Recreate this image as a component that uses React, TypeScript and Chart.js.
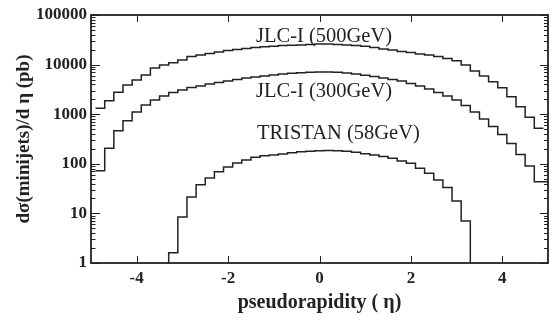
import { useEffect, useRef } from 'react';
import { Chart, registerables } from 'chart.js';

Chart.register(...registerables);

const BIN_WIDTH = 0.2;

const jlcEta = [
  -4.8, -4.6, -4.4, -4.2, -4.0, -3.8, -3.6, -3.4, -3.2, -3.0, -2.8, -2.6, -2.4, -2.2, -2.0, -1.8, -1.6,
  -1.4, -1.2, -1.0, -0.8, -0.6, -0.4, -0.2, 0.0, 0.2, 0.4, 0.6, 0.8, 1.0, 1.2, 1.4, 1.6, 1.8, 2.0, 2.2,
  2.4, 2.6, 2.8, 3.0, 3.2, 3.4, 3.6, 3.8, 4.0, 4.2, 4.4, 4.6, 4.8,
];

const jlc500 = [
  1315, 1870, 2765, 3880, 4895, 6170, 8540, 9820, 10920, 12380, 14560, 15620, 16740, 17950, 19250, 20150,
  21110, 22120, 22850, 23500, 24150, 24600, 24850, 25420, 26000, 26000, 25300, 24850, 24270, 23500, 22120,
  20630, 19700, 18370, 17540, 16360, 15620, 14560, 13270, 11990, 9820, 7430, 5890, 4520, 3420, 2250, 1415,
  865, 520,
];

const jlc300 = [
  72.6, 205, 465, 739, 1107, 1532, 1932, 2328, 2738, 3074, 3452, 3705, 4063, 4355, 4668, 5005, 5370, 5623,
  5890, 6170, 6460, 6680, 6870, 6995, 7095, 7095, 6995, 6770, 6460, 6085, 5754, 5370, 5005, 4668, 4157,
  3705, 3220, 2738, 2328, 1932, 1497, 1107, 800, 565, 390, 257, 154, 90, 43.5,
];
// the 300 GeV histogram's last bin runs on to the frame edge
const jlc300LastEdge = 5.0;

const tristanEta = [
  -3.2, -3.0, -2.8, -2.6, -2.4, -2.2, -2.0, -1.8, -1.6, -1.4, -1.2, -1.0, -0.8, -0.6, -0.4, -0.2, 0.0,
  0.2, 0.4, 0.6, 0.8, 1.0, 1.2, 1.4, 1.6, 1.8, 2.0, 2.2, 2.4, 2.6, 2.8, 3.0, 3.2,
];

const tristan58 = [
  1.61, 8.46, 21.4, 37.9, 51.8, 69.3, 86.2, 104, 119, 135, 145, 150, 158, 167, 175, 179, 183, 185, 183,
  179, 171, 160, 150, 140, 129, 114, 102, 81, 64.3, 47.1, 33.3, 17.8, 7.03,
];

const yMajorTicks = [1, 10, 100, 1000, 10000, 100000];
const yMinorMultipliers = [2, 3, 4, 5, 6, 7, 8, 9];
const xTicks = [-4, -2, 0, 2, 4];

const seriesLabels = [
  { text: 'JLC-I (500GeV)', eta: -1.39, value: 37000 },
  { text: 'JLC-I (300GeV)', eta: -1.39, value: 2850 },
  { text: 'TRISTAN (58GeV)', eta: -1.37, value: 400 },
];

const SERIF = "'Liberation Serif', 'DejaVu Serif', 'Times New Roman', serif";
const INK = '#222';

function histPoints(
  centers: number[],
  values: number[],
  dropToFloor: boolean,
  floor: number,
  lastEdge?: number,
) {
  const pts: { x: number; y: number }[] = [];
  const half = BIN_WIDTH / 2;
  if (dropToFloor) pts.push({ x: centers[0] - half, y: floor });
  centers.forEach((c, i) => pts.push({ x: c - half, y: values[i] }));
  const last = lastEdge ?? centers[centers.length - 1] + half;
  pts.push({ x: last, y: dropToFloor ? floor : values[values.length - 1] });
  return pts;
}

const framePlugin = {
  id: 'frameTicks',
  afterDatasetsDraw(chart: any) {
    const { ctx, chartArea: a, scales } = chart;
    const xs = scales.x;
    const ys = scales.y;
    ctx.save();
    ctx.strokeStyle = INK;
    ctx.lineWidth = 1;
    ctx.beginPath();
    yMajorTicks.forEach((d, i) => {
      const py = Math.round(ys.getPixelForValue(d)) + 0.5;
      ctx.moveTo(a.left, py);
      ctx.lineTo(a.left + 9, py);
      ctx.moveTo(a.right, py);
      ctx.lineTo(a.right - 8, py);
      if (i < yMajorTicks.length - 1) {
        yMinorMultipliers.forEach((m) => {
          const pm = Math.round(ys.getPixelForValue(d * m)) + 0.5;
          ctx.moveTo(a.left, pm);
          ctx.lineTo(a.left + 4.5, pm);
          ctx.moveTo(a.right, pm);
          ctx.lineTo(a.right - 4, pm);
        });
      }
    });
    xTicks.forEach((t) => {
      const px = Math.round(xs.getPixelForValue(t)) + 0.5;
      ctx.moveTo(px, a.bottom);
      ctx.lineTo(px, a.bottom - 7);
      ctx.moveTo(px, a.top);
      ctx.lineTo(px, a.top + 7);
    });
    ctx.stroke();
    ctx.lineWidth = 1.8;
    ctx.strokeRect(a.left, a.top, a.right - a.left, a.bottom - a.top);

    ctx.fillStyle = INK;
    ctx.font = `20.5px ${SERIF}`;
    ctx.textAlign = 'left';
    ctx.textBaseline = 'middle';
    seriesLabels.forEach((l) => {
      ctx.fillText(l.text, xs.getPixelForValue(l.eta), ys.getPixelForValue(l.value));
    });
    ctx.restore();
  },
};

export default function App() {
  const ref = useRef<HTMLCanvasElement | null>(null);

  useEffect(() => {
    if (!ref.current) return;
    const lineStyle = {
      borderColor: INK,
      borderWidth: 1.5,
      pointRadius: 0,
      fill: false,
      stepped: 'before' as const,
      tension: 0,
    };
    const chart = new Chart(ref.current, {
      type: 'line',
      data: {
        datasets: [
          { label: 'JLC-I (500GeV)', data: histPoints(jlcEta, jlc500, false, 1), ...lineStyle },
          { label: 'JLC-I (300GeV)', data: histPoints(jlcEta, jlc300, false, 1, jlc300LastEdge), ...lineStyle },
          { label: 'TRISTAN (58GeV)', data: histPoints(tristanEta, tristan58, true, 1), ...lineStyle },
        ],
      },
      options: {
        responsive: false,
        animation: false,
        layout: { padding: { top: 15, right: 4, left: 0, bottom: 0 } },
        plugins: {
          legend: { display: false },
          tooltip: { enabled: false },
        },
        scales: {
          x: {
            type: 'linear',
            min: -5,
            max: 5,
            grid: { display: false, drawTicks: false },
            border: { display: false },
            afterBuildTicks: (s: any) => {
              s.ticks = xTicks.map((v) => ({ value: v }));
            },
            afterFit: (s: any) => {
              s.height = 59;
            },
            ticks: {
              padding: 5,
              color: INK,
              font: { family: SERIF, size: 17, weight: 'bold' },
              callback: (v: any) => String(v),
            },
            title: {
              display: true,
              text: 'pseudorapidity ( η)',
              color: INK,
              font: { family: SERIF, size: 20, weight: 'bold' },
              padding: { top: 0, bottom: 7 },
            },
          },
          y: {
            type: 'logarithmic',
            min: 1,
            max: 100000,
            grid: { display: false, drawTicks: false },
            border: { display: false },
            afterBuildTicks: (s: any) => {
              s.ticks = yMajorTicks.map((v) => ({ value: v }));
            },
            afterFit: (s: any) => {
              s.width = 91;
            },
            ticks: {
              padding: 4,
              color: INK,
              font: { family: SERIF, size: 17, weight: 'bold' },
              callback: (v: any) => String(v),
            },
            title: {
              display: true,
              text: 'dσ(minijets)/d η (pb)',
              color: INK,
              font: { family: SERIF, size: 19, weight: 'bold' },
              padding: { top: 13, bottom: 0 },
            },
          },
        },
      },
      plugins: [framePlugin],
    });
    return () => chart.destroy();
  }, []);

  return (
    <div style={{ position: 'fixed', left: 0, top: 0, width: 552, height: 322, background: '#fff' }}>
      <canvas ref={ref} width={552} height={322} style={{ display: 'block' }} />
    </div>
  );
}
